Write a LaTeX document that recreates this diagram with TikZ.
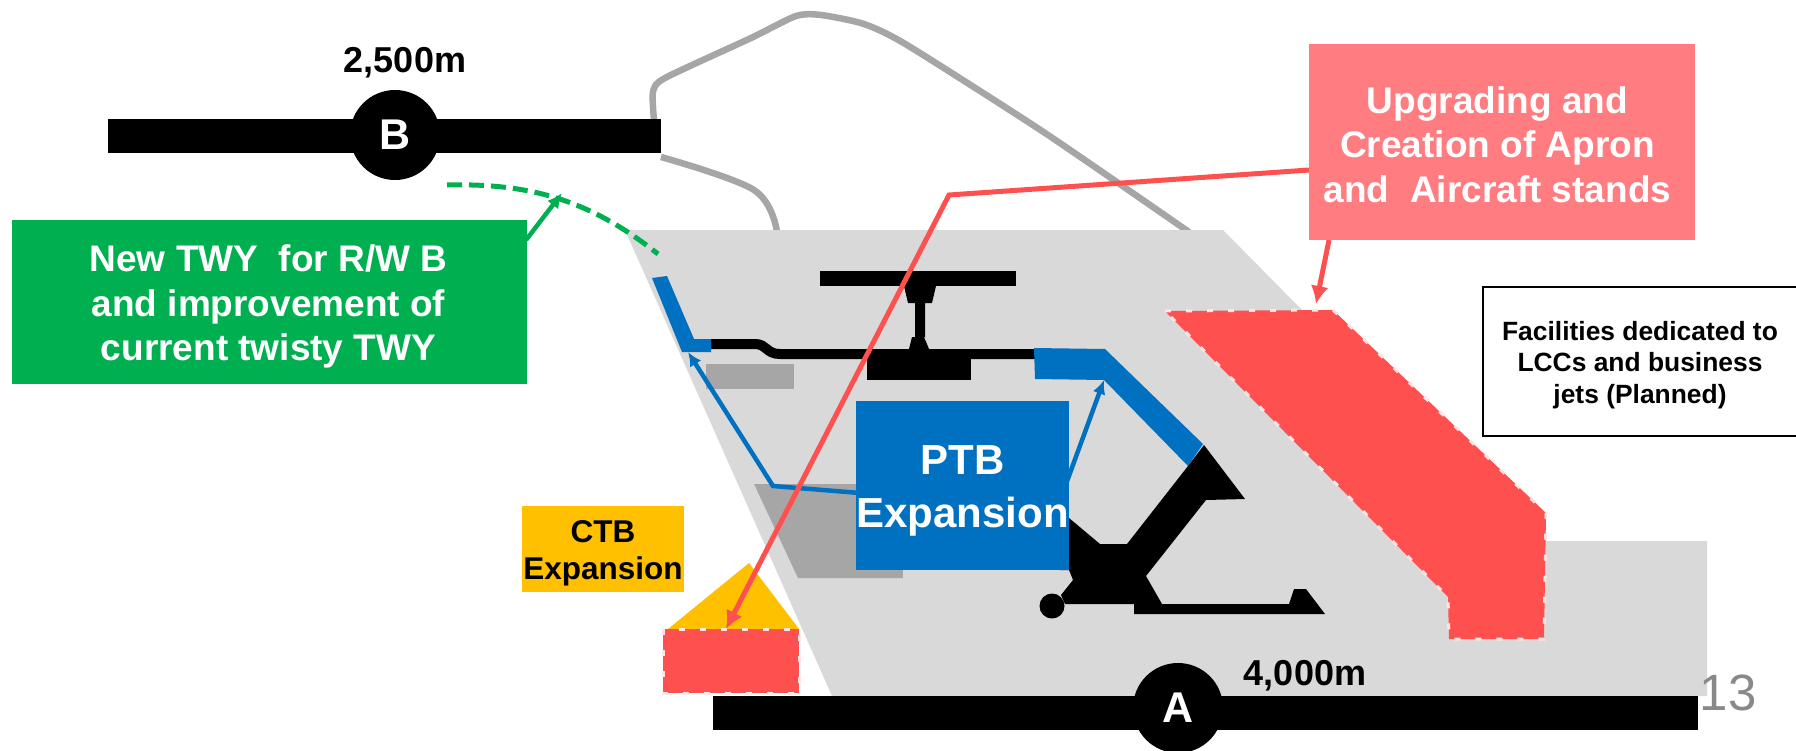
\documentclass[tikz,border=0pt]{standalone}
\usepackage{fontspec}
\setmainfont{Liberation Sans}
\usetikzlibrary{arrows.meta}
\definecolor{siteGray}{RGB}{217,217,217}
\definecolor{darkGray}{RGB}{166,166,166}
\definecolor{apronRed}{RGB}{255,80,80}
\definecolor{apronPink}{RGB}{255,124,128}
\definecolor{twyGreen}{RGB}{0,176,80}
\definecolor{ptbBlue}{RGB}{0,112,192}
\definecolor{ctbYellow}{RGB}{255,192,0}
\definecolor{pageNum}{RGB}{137,137,137}
\tikzset{
  lengthtext/.style={align=center, font=\bfseries\fontsize{36}{43}\selectfont, inner sep=0pt},
  whitebox/.style={rectangle, align=center, inner sep=0pt, text=white, font=\bfseries\fontsize{37}{44.5}\selectfont},
  runway/.style={fill=black, draw=none},
  badge/.style={circle, fill=black, text=white, minimum size=90pt, inner sep=0pt, font=\bfseries\fontsize{43}{50}\selectfont},
  newarea/.style={fill=apronRed, draw=white!85!apronRed, line width=3pt, dash pattern=on 6pt off 15pt},
  redarrow/.style={-{Latex[length=18pt,width=18pt]}, draw=apronRed, line width=5pt},
  bluearrow/.style={-{Latex[length=14pt,width=13pt]}, draw=ptbBlue, line width=4.5pt},
  greenarrow/.style={-{Latex[length=15pt,width=14pt]}, draw=twyGreen, line width=4.5pt},
  road/.style={draw=darkGray, line width=6.5pt}
}
\begin{document}
\begin{tikzpicture}[x=1pt, y=-1pt]
\useasboundingbox (0,0) rectangle (1796,750);
\clip (0,0) rectangle (1796,750);
% roads behind the site
\draw[road] plot[smooth, tension=0.4] coordinates {(654,120) (653,92) (665,78) (751,38) (796,16) (821,15) (864,24) (907,45) (1045,133) (1189,232)};
\draw[road] plot[smooth, tension=0.6] coordinates {(661,157) (754,190) (777,232)};
% site
\fill[siteGray] (625,230) -- (1223,230) -- (1530,541) -- (1707,541) -- (1707,696) -- (832,696) -- cycle;
% existing aprons
\fill[darkGray] (706,364) rectangle (794,389);
\fill[darkGray] (754,484) -- (900,484) -- (903,578) -- (798,578) -- cycle;
% new apron areas
\fill[ctbYellow] (668,629) -- (749,563) -- (799,629) -- cycle;
\path[newarea] (663,629) rectangle (799,693);
\path[newarea] (1165,311) -- (1333,310) -- (1546,513) -- (1544,639) -- (1449,639) -- (1448,597) -- cycle;
% terminal buildings
\fill[black] (820,271) rectangle (1016,286);
\fill[black] (904,286) -- (936,286) -- (932,303) -- (925,303) -- (925,337) -- (924,337) -- (929,349) -- (909,349) -- (912,337) -- (915,337) -- (915,303) -- (908,303) -- cycle;
\fill[black] (867,349) rectangle (971,380);
\draw[black, line width=10pt] (705,344) -- (755,344) .. controls (767,344) and (766,354) .. (780,354) -- (1040,354);
\fill[black] (1204,445) -- (1245,499) -- (1206,500) -- (1146,576) -- (1162,604) -- (1289,604) -- (1294,589) -- (1306,589) -- (1325,614) -- (1134,614) -- (1134,604) -- (1065,604) -- (1061,595) -- (1073,580) -- (1069,570) -- (1060,570) -- (1060,510) -- (1069,518) -- (1100,544) -- (1127,544) -- (1188,466) -- cycle;
\node[circle, fill=black, minimum size=25pt, inner sep=0pt] (pier) at (1052,606) {};
\fill[ptbBlue] (652,278) -- (667,276) -- (694,339) -- (711,339) -- (711,352) -- (682,352) -- cycle;
\fill[ptbBlue] (1034,348) -- (1105,349) -- (1203,444) -- (1188,466) -- (1104,380) -- (1035,379) -- cycle;
% runways
\fill[runway] (108,119) rectangle (661,153);
\fill[runway] (713,696) rectangle (1698,730);
\node[badge] (rwB) at (395,135) {B};
\node[badge] (rwA) at (1178,708) {\raisebox{-2pt}{A}};
\node[lengthtext] (lenB) at (405,63) {2,500m};
\node[lengthtext] (lenA) at (1305,676) {4,000m};
\node[font=\fontsize{51}{60}\selectfont, text=pageNum, inner sep=0pt] (pagenum) at (1728,693) {13};
% targets of the connectors
\coordinate (gStart) at (447,185);
\coordinate (gEnd) at (658,254);
\coordinate (gTip) at (562,193);
\coordinate (gOut) at (526,240);
\coordinate (rBend) at (949,195);
\coordinate (rTip) at (726,629);
\coordinate (rTipB) at (1316,304);
\coordinate (rOut) at (1309,170);
\coordinate (rOutB) at (1329,240);
\coordinate (bBend) at (773,486);
\coordinate (bTip) at (688,352);
\coordinate (bTipB) at (1104,380);
\coordinate (bOut) at (860,493);
\coordinate (bOutB) at (1066,484);
% taxiway and callouts
\draw[twyGreen, line width=5pt, dash pattern=on 15pt off 7pt] (gStart) .. controls (530,183) and (590,200) .. (gEnd);
\node[whitebox, fill=twyGreen, minimum width=515pt, minimum height=164pt] (twybox) at (269.5,302) {};
\node[whitebox] (twytext) at (268.5,306.5) {New TWY~ for R/W B\\and improvement of\\current twisty TWY};
\draw[greenarrow] (gOut) -- (gTip);
\draw[bluearrow] (bOut) -- (bBend) -- (bTip);
\draw[bluearrow] (bOutB) -- (bTipB);
\draw[redarrow] (rOut) -- (rBend) -- (rTip);
\draw[redarrow] (rOutB) -- (rTipB);
\node[whitebox, fill=apronPink, minimum width=386pt, minimum height=196pt] (apronbox) at (1502,142) {};
\node[whitebox] (aprontext) at (1497.5,144.5) {Upgrading and\\Creation of Apron\\and~ Aircraft stands};
\node[rectangle, fill=ptbBlue, minimum width=213pt, minimum height=169pt] (ptbbox) at (962.5,485.5) {};
\node[text=white, align=center, inner sep=0pt, font=\bfseries\fontsize{42}{53}\selectfont] (ptbtext) at (962.5,491) {PTB\\Expansion};
\node[rectangle, fill=ctbYellow, minimum width=162pt, minimum height=86pt] (ctbbox) at (603,549) {};
\node[align=center, inner sep=0pt, font=\bfseries\fontsize{31.5}{37}\selectfont] (ctbtext) at (603,553.5) {CTB\\Expansion};
\node[rectangle, draw=black, fill=white, line width=2pt, minimum width=320pt, minimum height=149pt] (lccbox) at (1643,361.5) {};
\node[align=center, inner sep=0pt, font=\bfseries\fontsize{26.4}{31.5}\selectfont] (lcctext) at (1640,365) {Facilities dedicated to\\LCCs and business\\jets (Planned)};
\end{tikzpicture}
\end{document}
